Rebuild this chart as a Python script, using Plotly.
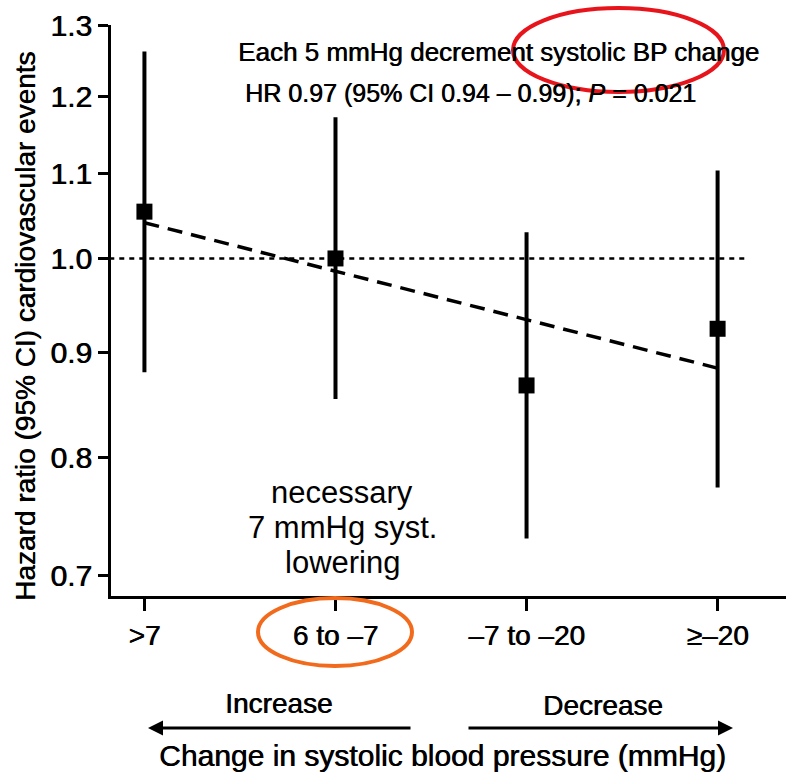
import math
import plotly.graph_objects as go

# ---- data ----
categories = [">7", "6 to –7", "–7 to –20", "≥–20"]
hr = [1.054, 1.000, 0.867, 0.924]
ci_low = [0.880, 0.854, 0.730, 0.773]
ci_high = [1.262, 1.172, 1.030, 1.104]
trend_hr = [1.041, 0.884]          # fitted line at first and last category
y_ticks = [0.7, 0.8, 0.9, 1.0, 1.1, 1.2, 1.3]
y_tick_labels = ["0.7", "0.8", "0.9", "1.0", "1.1", "1.2", "1.3"]
reference_hr = 1.0

W, H = 786, 774
FONT = "Liberation Sans, Arial, Helvetica, sans-serif"
HEAVY = "0.6px 0px 0px #000"   # slight thickening to mimic the scanned print


def px(x):
    return x / W


def py(y):
    return 1 - y / H


xpos = list(range(len(categories)))

fig = go.Figure()

# reference line at HR = 1
fig.add_trace(go.Scatter(
    x=[-0.184, 3.163], y=[reference_hr, reference_hr], mode="lines",
    line=dict(color="black", width=2.5, dash="5px,5px"),
    hoverinfo="skip", showlegend=False))

# trend line
fig.add_trace(go.Scatter(
    x=[xpos[0], xpos[-1]], y=trend_hr, mode="lines",
    line=dict(color="black", width=3.5, dash="15px,9px"),
    hoverinfo="skip", showlegend=False))

# point estimates with CIs
fig.add_trace(go.Scatter(
    x=xpos, y=hr, mode="markers",
    marker=dict(symbol="square", size=16, color="black"),
    error_y=dict(type="data", symmetric=False,
                 array=[h - m for h, m in zip(ci_high, hr)],
                 arrayminus=[m - l for m, l in zip(hr, ci_low)],
                 thickness=4, width=0, color="black"),
    showlegend=False))

y_bottom, y_top = 0.6843, 1.3

fig.update_layout(
    width=W, height=H,
    margin=dict(l=0, r=0, t=0, b=0),
    paper_bgcolor="white", plot_bgcolor="white",
    font=dict(family=FONT, color="black"),
    xaxis=dict(
        domain=[111 / W, 1.0], range=[-0.175, 3.358], automargin=False,
        tickvals=xpos, ticktext=categories,
        showline=True, linewidth=3, linecolor="black",
        ticks="outside", ticklen=12, tickwidth=3, tickcolor="black",
        showgrid=False, zeroline=False,
        tickfont=dict(size=28, family=FONT, color="black", shadow=HEAVY)),
    yaxis=dict(
        type="log", domain=[(H - 596) / H, (H - 25) / H], automargin=False,
        range=[math.log10(y_bottom), math.log10(y_top)],
        tickvals=y_ticks, ticktext=y_tick_labels,
        showline=True, linewidth=3, linecolor="black",
        ticks="outside", ticklen=10, tickwidth=3, tickcolor="black",
        showgrid=False, zeroline=False,
        tickfont=dict(size=30, family=FONT, color="black", shadow=HEAVY)),
)

annotations = [
    dict(text="Hazard ratio (95% CI) cardiovascular events", textangle=-90,
         x=px(25), y=py(327), font=dict(size=28, shadow=HEAVY)),
    dict(text="Each 5 mmHg decrement systolic BP change",
         x=px(236), y=py(52), xanchor="left", font=dict(size=26, shadow=HEAVY)),
    dict(text="HR 0.97 (95% CI 0.94 – 0.99); <i>P</i> = 0.021",
         x=px(243), y=py(93), xanchor="left", font=dict(size=25, shadow=HEAVY)),
    dict(text="necessary", x=px(342), y=py(492), font=dict(size=31)),
    dict(text="7 mmHg syst.", x=px(342), y=py(527), font=dict(size=31)),
    dict(text="lowering", x=px(342), y=py(562), font=dict(size=31)),
    dict(text="Increase", x=px(278), y=py(703), font=dict(size=28, shadow=HEAVY)),
    dict(text="Decrease", x=px(603), y=py(705), font=dict(size=28, shadow=HEAVY)),
    dict(text="Change in systolic blood pressure (mmHg)",
         x=px(443), y=py(755), font=dict(size=30, shadow=HEAVY)),
    # arrows
    dict(text="", x=px(148), y=py(728), ax=412 - 148, ay=0,
         showarrow=True, arrowhead=2, arrowsize=1, arrowwidth=3, arrowcolor="black"),
    dict(text="", x=px(733), y=py(728), ax=467 - 733, ay=0,
         showarrow=True, arrowhead=2, arrowsize=1, arrowwidth=3, arrowcolor="black"),
]
for a in annotations:
    a.setdefault("xref", "paper")
    a.setdefault("yref", "paper")
    a.setdefault("showarrow", False)
    a.setdefault("xanchor", "center")
    a.setdefault("yanchor", "middle")
    fig.add_annotation(**a)

fig.add_shape(type="circle", xref="paper", yref="paper",
              x0=px(513), x1=px(724), y0=py(92), y1=py(8),
              line=dict(color="#e8141b", width=4))
fig.add_shape(type="circle", xref="paper", yref="paper",
              x0=px(258), x1=px(412), y0=py(666), y1=py(598),
              line=dict(color="#f26a1b", width=4))

fig.write_html("out.html")
